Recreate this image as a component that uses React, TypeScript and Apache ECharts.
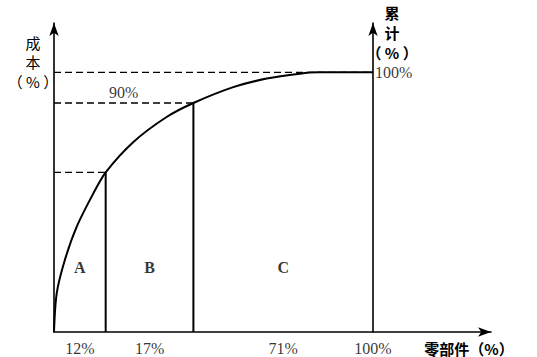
import React, { useEffect, useRef } from "react";
import * as echarts from "echarts";

// ABC analysis (schematic, not to scale): x = drawn position of parts axis, y = cumulative cost %
const classes = ["A", "B", "C"];
const partShare = ["12%", "17%", "71%"]; // share of parts in each class
const classEnd = [16.2, 43.7, 100]; // drawn boundary of each class on the parts axis
const costAtEnd = [61.5, 88.2, 100]; // cumulative cost reached at each boundary
const costLabels = ["", "90%", "100%"];
const partsTotalLabel = "100%";

// Pareto curve
const curveX = [0, 0.85, 3.4, 7.1, 12.3, 16.2, 24.9, 35.3, 43.7, 56.2, 66.7, 77.1, 82.8, 100];
const curveY = [0, 14.9, 27.7, 40.5, 53.3, 61.5, 73.2, 82.8, 88.2, 94.3, 97.6, 99.5, 100, 100];

// axis titles, one line per entry
const yTitle = ["成", "本", "（ % ）"];
const y2Title = ["累", "计", "（ % ）"];
const xTitle = "零部件（%）";

const X_MAX = 137;
const Y_MAX = 119;

const SERIF = "'Liberation Serif', 'DejaVu Serif', serif";
const CJK = "'Noto Sans CJK SC', sans-serif";

export default function App() {
  const ref = useRef<HTMLDivElement>(null);

  useEffect(() => {
    if (!ref.current) return;
    const chart = echarts.init(ref.current, undefined, { renderer: "svg" });

    const starts = classEnd.map((_, i) => (i === 0 ? 0 : classEnd[i - 1]));
    const mids = classEnd.map((e, i) => (starts[i] + e) / 2);

    const series: any[] = [];

    series.push({
      type: "line",
      data: curveX.map((x, i) => [x, curveY[i]]),
      smooth: 0.3,
      symbol: "none",
      lineStyle: { color: "#000", width: 2 },
      z: 5,
    });

    classEnd.forEach((e, i) => {
      series.push({
        type: "line",
        data: [
          [0, costAtEnd[i]],
          [e, costAtEnd[i]],
        ],
        symbol: "none",
        lineStyle: { color: "#000", width: 1.3, type: [7, 4] },
        z: 3,
      });
      if (i < classEnd.length - 1) {
        series.push({
          type: "line",
          data: [
            [e, 0],
            [e, costAtEnd[i]],
          ],
          symbol: "none",
          lineStyle: { color: "#000", width: 2 },
          z: 4,
        });
      }
    });

    const numLabel = {
      show: true,
      color: "#000",
      fontFamily: SERIF,
      fontSize: 16,
    };

    series.push({
      type: "scatter",
      symbolSize: 0,
      data: [
        ...mids.map((m, i) => ({ value: [m, 0], label: { formatter: partShare[i] } })),
        { value: [100, 0], label: { formatter: partsTotalLabel } },
      ],
      label: { ...numLabel, position: "bottom", distance: 8 },
      silent: true,
    });

    series.push({
      type: "scatter",
      symbolSize: 0,
      data: mids.map((m, i) => ({ value: [m, 25], label: { formatter: classes[i] } })),
      label: {
        show: true,
        position: "inside",
        color: "#000",
        fontFamily: SERIF,
        fontWeight: "bold",
        fontSize: 16,
      },
      silent: true,
    });

    series.push({
      type: "scatter",
      symbolSize: 0,
      data: [
        { value: [classEnd[1] / 2, costAtEnd[1]], label: { formatter: costLabels[1], position: "top", distance: 2 } },
        { value: [classEnd[2], costAtEnd[2]], label: { formatter: costLabels[2], position: "right", distance: 2 } },
      ],
      label: numLabel,
      silent: true,
    });

    const axisBase = {
      type: "value" as const,
      min: 0,
      axisTick: { show: false },
      axisLabel: { show: false },
      splitLine: { show: false },
    };
    const arrowLine = {
      show: true,
      onZero: false,
      symbol: ["none", "arrow"],
      symbolSize: [7, 13],
      lineStyle: { color: "#000", width: 1.6 },
    };

    const stack = (lines: string[], cx: number, cy0: number, step: number, weight: string) =>
      lines.map((t, i) => ({
        type: "text",
        x: cx,
        y: cy0 + i * step,
        style: {
          text: t,
          align: "center",
          verticalAlign: "middle",
          fill: "#000",
          font: `${weight} 15px ${CJK}`,
        },
      }));

    chart.setOption({
      animation: false,
      backgroundColor: "#fff",
      grid: { left: 54, right: 46, top: 23, bottom: 25, containLabel: false },
      xAxis: { ...axisBase, max: X_MAX, axisLine: arrowLine },
      yAxis: [
        { ...axisBase, max: Y_MAX, axisLine: arrowLine },
        { ...axisBase, max: Y_MAX, position: "right", offset: -118, axisLine: arrowLine },
      ],
      graphic: [
        ...stack(yTitle, 33, 42, 19.5, "normal"),
        ...stack(y2Title, 392, 12, 20, "bold"),
        {
          type: "text",
          x: 469,
          y: 348,
          style: {
            text: xTitle,
            align: "center",
            verticalAlign: "middle",
            fill: "#000",
            font: `bold 15px ${CJK}`,
          },
        },
      ],
      series,
    });

    return () => chart.dispose();
  }, []);

  return <div ref={ref} style={{ width: 537, height: 357, position: "absolute", left: 0, top: 0 }} />;
}
